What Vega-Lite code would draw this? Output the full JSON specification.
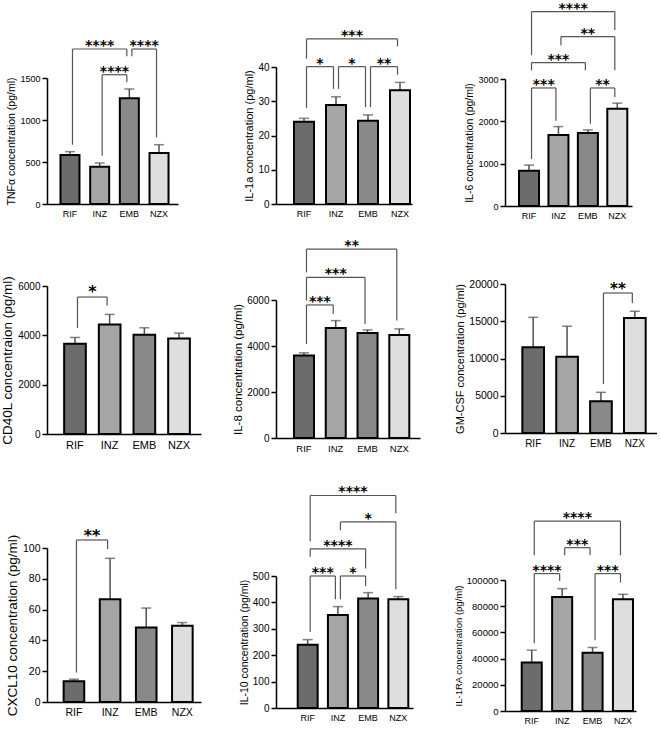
{
  "$schema": "https://vega.github.io/schema/vega-lite/v6.json",
  "padding": {"left": 0, "top": 1, "right": 0, "bottom": 0},
  "datasets": {
    "bars": [
      {"p": "TNF", "g": "RIF", "mean": 583, "upper": 623},
      {"p": "TNF", "g": "INZ", "mean": 444, "upper": 488},
      {"p": "TNF", "g": "EMB", "mean": 1258, "upper": 1369},
      {"p": "TNF", "g": "NZX", "mean": 607, "upper": 706},
      {"p": "IL1a", "g": "RIF", "mean": 24.0, "upper": 25.0},
      {"p": "IL1a", "g": "INZ", "mean": 28.9, "upper": 31.3},
      {"p": "IL1a", "g": "EMB", "mean": 24.3, "upper": 26.0},
      {"p": "IL1a", "g": "NZX", "mean": 33.2, "upper": 35.5},
      {"p": "IL6", "g": "RIF", "mean": 831, "upper": 966},
      {"p": "IL6", "g": "INZ", "mean": 1678, "upper": 1876},
      {"p": "IL6", "g": "EMB", "mean": 1726, "upper": 1797},
      {"p": "IL6", "g": "NZX", "mean": 2296, "upper": 2430},
      {"p": "CD40L", "g": "RIF", "mean": 3656, "upper": 3914},
      {"p": "CD40L", "g": "INZ", "mean": 4442, "upper": 4848},
      {"p": "CD40L", "g": "EMB", "mean": 4022, "upper": 4306},
      {"p": "CD40L", "g": "NZX", "mean": 3873, "upper": 4089},
      {"p": "IL8", "g": "RIF", "mean": 3586, "upper": 3702},
      {"p": "IL8", "g": "INZ", "mean": 4786, "upper": 5104},
      {"p": "IL8", "g": "EMB", "mean": 4569, "upper": 4700},
      {"p": "IL8", "g": "NZX", "mean": 4483, "upper": 4743},
      {"p": "GMCSF", "g": "RIF", "mean": 11498, "upper": 15525},
      {"p": "GMCSF", "g": "INZ", "mean": 10246, "upper": 14317},
      {"p": "GMCSF", "g": "EMB", "mean": 4250, "upper": 5458},
      {"p": "GMCSF", "g": "NZX", "mean": 15436, "upper": 16330},
      {"p": "CXCL10", "g": "RIF", "mean": 13.4, "upper": 14.8},
      {"p": "CXCL10", "g": "INZ", "mean": 66.8, "upper": 93.3},
      {"p": "CXCL10", "g": "EMB", "mean": 48.4, "upper": 61.0},
      {"p": "CXCL10", "g": "NZX", "mean": 49.5, "upper": 51.6},
      {"p": "IL10", "g": "RIF", "mean": 240, "upper": 259},
      {"p": "IL10", "g": "INZ", "mean": 352, "upper": 384},
      {"p": "IL10", "g": "EMB", "mean": 415, "upper": 437},
      {"p": "IL10", "g": "NZX", "mean": 412, "upper": 422},
      {"p": "IL1RA", "g": "RIF", "mean": 37056, "upper": 46446},
      {"p": "IL1RA", "g": "INZ", "mean": 87050, "upper": 93400},
      {"p": "IL1RA", "g": "EMB", "mean": 44400, "upper": 48470},
      {"p": "IL1RA", "g": "NZX", "mean": 85280, "upper": 89080}
    ],
    "br": [
      {"p": "TNF", "g1": "RIF", "g2": "EMB", "y": 1845, "l1": 706, "l2": 1758, "s": "****"},
      {"p": "TNF", "g1": "EMB", "g2": "NZX", "y": 1845, "l1": 1758, "l2": 794, "s": "****"},
      {"p": "TNF", "g1": "INZ", "g2": "EMB", "y": 1539, "l1": 575, "l2": 1449, "s": "****"},
      {"p": "IL1a", "g1": "RIF", "g2": "NZX", "y": 48.2, "l1": 42.4, "l2": 46.0, "s": "***"},
      {"p": "IL1a", "g1": "RIF", "g2": "INZ", "y": 40.1, "l1": 28.0, "l2": 33.6, "s": "*"},
      {"p": "IL1a", "g1": "INZ", "g2": "EMB", "y": 40.1, "l1": 33.6, "l2": 28.3, "s": "*"},
      {"p": "IL1a", "g1": "EMB", "g2": "NZX", "y": 40.1, "l1": 28.3, "l2": 37.7, "s": "**"},
      {"p": "IL6", "g1": "RIF", "g2": "NZX", "y": 4593, "l1": 3563, "l2": 4156, "s": "****"},
      {"p": "IL6", "g1": "INZ", "g2": "NZX", "y": 4000, "l1": 3800, "l2": 3206, "s": "**"},
      {"p": "IL6", "g1": "RIF", "g2": "EMB", "y": 3389, "l1": 3206, "l2": 3206, "s": "***"},
      {"p": "IL6", "g1": "RIF", "g2": "INZ", "y": 2788, "l1": 1109, "l2": 2012, "s": "***"},
      {"p": "IL6", "g1": "EMB", "g2": "NZX", "y": 2788, "l1": 1940, "l2": 2575, "s": "**"},
      {"p": "CD40L", "g1": "RIF", "g2": "INZ", "y": 5552, "l1": 4292, "l2": 5213, "s": "*"},
      {"p": "IL8", "g1": "RIF", "g2": "NZX", "y": 8213, "l1": 7201, "l2": 5104, "s": "**"},
      {"p": "IL8", "g1": "RIF", "g2": "EMB", "y": 6984, "l1": 5972, "l2": 4960, "s": "***"},
      {"p": "IL8", "g1": "RIF", "g2": "INZ", "y": 5784, "l1": 4092, "l2": 5394, "s": "***"},
      {"p": "GMCSF", "g1": "EMB", "g2": "NZX", "y": 18791, "l1": 6577, "l2": 17449, "s": "**"},
      {"p": "CXCL10", "g1": "RIF", "g2": "INZ", "y": 105.2, "l1": 19.1, "l2": 99.3, "s": "**"},
      {"p": "IL10", "g1": "RIF", "g2": "NZX", "y": 805, "l1": 631, "l2": 738, "s": "****"},
      {"p": "IL10", "g1": "INZ", "g2": "NZX", "y": 705, "l1": 673, "l2": 450, "s": "*"},
      {"p": "IL10", "g1": "RIF", "g2": "EMB", "y": 603, "l1": 573, "l2": 528, "s": "****"},
      {"p": "IL10", "g1": "RIF", "g2": "INZ", "y": 500, "l1": 288, "l2": 412, "s": "***"},
      {"p": "IL10", "g1": "INZ", "g2": "EMB", "y": 500, "l1": 412, "l2": 462, "s": "*"},
      {"p": "IL1RA", "g1": "RIF", "g2": "NZX", "y": 144900, "l1": 118800, "l2": 118800, "s": "****"},
      {"p": "IL1RA", "g1": "INZ", "g2": "EMB", "y": 124700, "l1": 118800, "l2": 118800, "s": "***"},
      {"p": "IL1RA", "g1": "RIF", "g2": "INZ", "y": 104900, "l1": 51800, "l2": 99240, "s": "****"},
      {"p": "IL1RA", "g1": "EMB", "g2": "NZX", "y": 104900, "l1": 54000, "l2": 98000, "s": "***"}
    ]
  },
  "config": {
    "view": {"stroke": null},
    "font": "Liberation Sans",
    "numberFormat": "d",
    "axis": {"grid": false, "domainColor": "black", "domainWidth": 1.5, "tickColor": "black", "tickWidth": 1.5, "tickSize": 5, "labelColor": "black", "titleColor": "black", "titleFontWeight": "normal", "labelPadding": 2, "titlePadding": 3, "labelOverlap": false},
    "axisX": {"ticks": false, "labelAngle": 0, "labelPadding": 5}
  },
  "bounds": "flush",
  "spacing": 229,
  "hconcat": [
    {
      "bounds": "flush",
      "spacing": 0,
      "vconcat": [
        {"width": 1, "height": 12, "mark": {"type": "point", "opacity": 0}, "data": {"values": [{}]}},
        {
          "width": 131, "height": 126,
          "layer": [
            {"data": {"name": "bars"}, "transform": [{"filter": "datum.p == 'TNF'"}], "layer": [
              {"mark": {"type": "rule", "color": "#505050", "strokeWidth": 1.5}, "encoding": {"x": {"field": "g", "type": "nominal", "title": null}, "y": {"field": "mean", "type": "quantitative"}, "y2": {"field": "upper"}}},
              {"mark": {"type": "tick", "color": "#505050", "thickness": 1.5, "size": 10}, "encoding": {"x": {"field": "g", "type": "nominal", "title": null}, "y": {"field": "upper", "type": "quantitative"}}},
              {"mark": {"type": "bar", "stroke": "black", "strokeWidth": 2}, "encoding": {
                "x": {"field": "g", "type": "nominal", "title": null, "scale": {"domain": ["RIF", "INZ", "EMB", "NZX"], "paddingInner": 0.36, "paddingOuter": 0.387, "align": 0.587}, "axis": {"labelFontSize": 9}},
                "y": {"field": "mean", "type": "quantitative", "title": "TNFα concentration (pg/ml)", "scale": {"domain": [0, 1500], "nice": false}, "axis": {"values": [0, 500, 1000, 1500], "tickCount": 20, "titleFontSize": 10.5, "labelFontSize": 9}},
                "fill": {"field": "g", "type": "nominal", "scale": {"domain": ["RIF", "INZ", "EMB", "NZX"], "range": ["#6c6c6c", "#a5a5a5", "#898989", "#dedede"]}, "legend": null}}}
            ]},
            {"data": {"name": "br"}, "transform": [{"filter": "datum.p == 'TNF'"}], "layer": [
              {"mark": {"type": "rule", "color": "#555555", "strokeWidth": 1.2, "xOffset": 2.5, "x2Offset": -2.5}, "encoding": {"x": {"field": "g1", "type": "nominal", "title": null, "bandPosition": 0.5}, "x2": {"field": "g2", "bandPosition": 0.5}, "y": {"field": "y", "type": "quantitative"}}},
              {"mark": {"type": "rule", "color": "#555555", "strokeWidth": 1.2, "xOffset": 2.5}, "encoding": {"x": {"field": "g1", "type": "nominal", "title": null}, "y": {"field": "l1", "type": "quantitative"}, "y2": {"field": "y"}}},
              {"mark": {"type": "rule", "color": "#555555", "strokeWidth": 1.2, "xOffset": -2.5}, "encoding": {"x": {"field": "g2", "type": "nominal", "title": null}, "y": {"field": "l2", "type": "quantitative"}, "y2": {"field": "y"}}},
              {"transform": [{"filter": "indexof(['RIF','INZ','EMB','NZX'], datum.g2) - indexof(['RIF','INZ','EMB','NZX'], datum.g1) == 1"}], "mark": {"type": "text", "font": "DejaVu Sans", "fontWeight": "bold", "fontSize": 14, "baseline": "alphabetic", "dy": 1}, "encoding": {"x": {"field": "g1", "type": "nominal", "title": null, "bandPosition": 1.28125}, "y": {"field": "y", "type": "quantitative"}, "text": {"field": "s"}}},
              {"transform": [{"filter": "indexof(['RIF','INZ','EMB','NZX'], datum.g2) - indexof(['RIF','INZ','EMB','NZX'], datum.g1) == 2"}], "mark": {"type": "text", "font": "DejaVu Sans", "fontWeight": "bold", "fontSize": 14, "baseline": "alphabetic", "dy": 1}, "encoding": {"x": {"field": "g1", "type": "nominal", "title": null, "bandPosition": 2.0625}, "y": {"field": "y", "type": "quantitative"}, "text": {"field": "s"}}}
            ]}
          ]
        },
        {"width": 1, "height": 82, "mark": {"type": "point", "opacity": 0}, "data": {"values": [{}]}},
        {
          "width": 154, "height": 148,
          "layer": [
            {"data": {"name": "bars"}, "transform": [{"filter": "datum.p == 'CD40L'"}], "layer": [
              {"mark": {"type": "rule", "color": "#505050", "strokeWidth": 1.5}, "encoding": {"x": {"field": "g", "type": "nominal", "title": null}, "y": {"field": "mean", "type": "quantitative"}, "y2": {"field": "upper"}}},
              {"mark": {"type": "tick", "color": "#505050", "thickness": 1.5, "size": 10}, "encoding": {"x": {"field": "g", "type": "nominal", "title": null}, "y": {"field": "upper", "type": "quantitative"}}},
              {"mark": {"type": "bar", "stroke": "black", "strokeWidth": 2}, "encoding": {
                "x": {"field": "g", "type": "nominal", "title": null, "scale": {"domain": ["RIF", "INZ", "EMB", "NZX"], "paddingInner": 0.375, "paddingOuter": 0.408, "align": 0.606}, "axis": {"labelFontSize": 11}},
                "y": {"field": "mean", "type": "quantitative", "title": "CD40L concentraion (pg/ml)", "scale": {"domain": [0, 6000], "nice": false}, "axis": {"values": [0, 2000, 4000, 6000], "tickCount": 20, "titleFontSize": 13.5, "labelFontSize": 10}},
                "fill": {"field": "g", "type": "nominal", "scale": {"domain": ["RIF", "INZ", "EMB", "NZX"], "range": ["#6c6c6c", "#a5a5a5", "#898989", "#dedede"]}, "legend": null}}}
            ]},
            {"data": {"name": "br"}, "transform": [{"filter": "datum.p == 'CD40L'"}], "layer": [
              {"mark": {"type": "rule", "color": "#555555", "strokeWidth": 1.2, "xOffset": 2.5, "x2Offset": -2.5}, "encoding": {"x": {"field": "g1", "type": "nominal", "title": null, "bandPosition": 0.5}, "x2": {"field": "g2", "bandPosition": 0.5}, "y": {"field": "y", "type": "quantitative"}}},
              {"mark": {"type": "rule", "color": "#555555", "strokeWidth": 1.2, "xOffset": 2.5}, "encoding": {"x": {"field": "g1", "type": "nominal", "title": null}, "y": {"field": "l1", "type": "quantitative"}, "y2": {"field": "y"}}},
              {"mark": {"type": "rule", "color": "#555555", "strokeWidth": 1.2, "xOffset": -2.5}, "encoding": {"x": {"field": "g2", "type": "nominal", "title": null}, "y": {"field": "l2", "type": "quantitative"}, "y2": {"field": "y"}}},
              {"mark": {"type": "text", "font": "DejaVu Sans", "fontWeight": "bold", "fontSize": 16, "baseline": "alphabetic", "dy": 0}, "encoding": {"x": {"field": "g1", "type": "nominal", "title": null, "bandPosition": 1.3}, "y": {"field": "y", "type": "quantitative"}, "text": {"field": "s"}}}
            ]}
          ]
        },
        {"width": 1, "height": 114, "mark": {"type": "point", "opacity": 0}, "data": {"values": [{}]}},
        {
          "width": 154, "height": 154,
          "layer": [
            {"data": {"name": "bars"}, "transform": [{"filter": "datum.p == 'CXCL10'"}], "layer": [
              {"mark": {"type": "rule", "color": "#505050", "strokeWidth": 1.5}, "encoding": {"x": {"field": "g", "type": "nominal", "title": null}, "y": {"field": "mean", "type": "quantitative"}, "y2": {"field": "upper"}}},
              {"mark": {"type": "tick", "color": "#505050", "thickness": 1.5, "size": 10}, "encoding": {"x": {"field": "g", "type": "nominal", "title": null}, "y": {"field": "upper", "type": "quantitative"}}},
              {"mark": {"type": "bar", "stroke": "black", "strokeWidth": 2}, "encoding": {
                "x": {"field": "g", "type": "nominal", "title": null, "scale": {"domain": ["RIF", "INZ", "EMB", "NZX"], "paddingInner": 0.43, "paddingOuter": 0.346, "align": 0.666}, "axis": {"labelFontSize": 10.5}},
                "y": {"field": "mean", "type": "quantitative", "title": "CXCL10 concentration (pg/ml)", "scale": {"domain": [0, 100], "nice": false}, "axis": {"values": [0, 20, 40, 60, 80, 100], "tickCount": 20, "titleFontSize": 13.5, "labelFontSize": 10.5}},
                "fill": {"field": "g", "type": "nominal", "scale": {"domain": ["RIF", "INZ", "EMB", "NZX"], "range": ["#6c6c6c", "#a5a5a5", "#898989", "#dedede"]}, "legend": null}}}
            ]},
            {"data": {"name": "br"}, "transform": [{"filter": "datum.p == 'CXCL10'"}], "layer": [
              {"mark": {"type": "rule", "color": "#555555", "strokeWidth": 1.2, "xOffset": 2.5, "x2Offset": -2.5}, "encoding": {"x": {"field": "g1", "type": "nominal", "title": null, "bandPosition": 0.5}, "x2": {"field": "g2", "bandPosition": 0.5}, "y": {"field": "y", "type": "quantitative"}}},
              {"mark": {"type": "rule", "color": "#555555", "strokeWidth": 1.2, "xOffset": 2.5}, "encoding": {"x": {"field": "g1", "type": "nominal", "title": null}, "y": {"field": "l1", "type": "quantitative"}, "y2": {"field": "y"}}},
              {"mark": {"type": "rule", "color": "#555555", "strokeWidth": 1.2, "xOffset": -2.5}, "encoding": {"x": {"field": "g2", "type": "nominal", "title": null}, "y": {"field": "l2", "type": "quantitative"}, "y2": {"field": "y"}}},
              {"mark": {"type": "text", "font": "DejaVu Sans", "fontWeight": "bold", "fontSize": 16, "baseline": "alphabetic", "dy": 1}, "encoding": {"x": {"field": "g1", "type": "nominal", "title": null, "bandPosition": 1.3772}, "y": {"field": "y", "type": "quantitative"}, "text": {"field": "s"}}}
            ]}
          ]
        }
      ]
    },
    {
      "bounds": "flush",
      "spacing": 0,
      "vconcat": [
        {"width": 1, "height": 1, "mark": {"type": "point", "opacity": 0}, "data": {"values": [{}]}},
        {
          "width": 136, "height": 137,
          "layer": [
            {"data": {"name": "bars"}, "transform": [{"filter": "datum.p == 'IL1a'"}], "layer": [
              {"mark": {"type": "rule", "color": "#505050", "strokeWidth": 1.5}, "encoding": {"x": {"field": "g", "type": "nominal", "title": null}, "y": {"field": "mean", "type": "quantitative"}, "y2": {"field": "upper"}}},
              {"mark": {"type": "tick", "color": "#505050", "thickness": 1.5, "size": 10}, "encoding": {"x": {"field": "g", "type": "nominal", "title": null}, "y": {"field": "upper", "type": "quantitative"}}},
              {"mark": {"type": "bar", "stroke": "black", "strokeWidth": 2}, "encoding": {
                "x": {"field": "g", "type": "nominal", "title": null, "scale": {"domain": ["RIF", "INZ", "EMB", "NZX"], "paddingInner": 0.375, "paddingOuter": 0.3125, "align": 0.9}, "axis": {"labelFontSize": 9}},
                "y": {"field": "mean", "type": "quantitative", "title": "IL-1a concentration (pg/ml)", "scale": {"domain": [0, 40], "nice": false}, "axis": {"values": [0, 10, 20, 30, 40], "tickCount": 20, "titleFontSize": 11, "labelFontSize": 10}},
                "fill": {"field": "g", "type": "nominal", "scale": {"domain": ["RIF", "INZ", "EMB", "NZX"], "range": ["#6c6c6c", "#a5a5a5", "#898989", "#dedede"]}, "legend": null}}}
            ]},
            {"data": {"name": "br"}, "transform": [{"filter": "datum.p == 'IL1a'"}], "layer": [
              {"mark": {"type": "rule", "color": "#555555", "strokeWidth": 1.2, "xOffset": 2.5, "x2Offset": -2.5}, "encoding": {"x": {"field": "g1", "type": "nominal", "title": null, "bandPosition": 0.5}, "x2": {"field": "g2", "bandPosition": 0.5}, "y": {"field": "y", "type": "quantitative"}}},
              {"mark": {"type": "rule", "color": "#555555", "strokeWidth": 1.2, "xOffset": 2.5}, "encoding": {"x": {"field": "g1", "type": "nominal", "title": null}, "y": {"field": "l1", "type": "quantitative"}, "y2": {"field": "y"}}},
              {"mark": {"type": "rule", "color": "#555555", "strokeWidth": 1.2, "xOffset": -2.5}, "encoding": {"x": {"field": "g2", "type": "nominal", "title": null}, "y": {"field": "l2", "type": "quantitative"}, "y2": {"field": "y"}}},
              {"transform": [{"filter": "indexof(['RIF','INZ','EMB','NZX'], datum.g2) - indexof(['RIF','INZ','EMB','NZX'], datum.g1) == 1"}], "mark": {"type": "text", "font": "DejaVu Sans", "fontWeight": "bold", "fontSize": 14, "baseline": "alphabetic", "dy": 1}, "encoding": {"x": {"field": "g1", "type": "nominal", "title": null, "bandPosition": 1.3}, "y": {"field": "y", "type": "quantitative"}, "text": {"field": "s"}}},
              {"transform": [{"filter": "indexof(['RIF','INZ','EMB','NZX'], datum.g2) - indexof(['RIF','INZ','EMB','NZX'], datum.g1) == 3"}], "mark": {"type": "text", "font": "DejaVu Sans", "fontWeight": "bold", "fontSize": 14, "baseline": "alphabetic", "dy": 1}, "encoding": {"x": {"field": "g1", "type": "nominal", "title": null, "bandPosition": 2.9}, "y": {"field": "y", "type": "quantitative"}, "text": {"field": "s"}}}
            ]}
          ]
        },
        {"width": 1, "height": 96, "mark": {"type": "point", "opacity": 0}, "data": {"values": [{}]}},
        {
          "width": 144, "height": 138,
          "layer": [
            {"data": {"name": "bars"}, "transform": [{"filter": "datum.p == 'IL8'"}], "layer": [
              {"mark": {"type": "rule", "color": "#505050", "strokeWidth": 1.5}, "encoding": {"x": {"field": "g", "type": "nominal", "title": null}, "y": {"field": "mean", "type": "quantitative"}, "y2": {"field": "upper"}}},
              {"mark": {"type": "tick", "color": "#505050", "thickness": 1.5, "size": 10}, "encoding": {"x": {"field": "g", "type": "nominal", "title": null}, "y": {"field": "upper", "type": "quantitative"}}},
              {"mark": {"type": "bar", "stroke": "black", "strokeWidth": 2}, "encoding": {
                "x": {"field": "g", "type": "nominal", "title": null, "scale": {"domain": ["RIF", "INZ", "EMB", "NZX"], "paddingInner": 0.37, "paddingOuter": 0.451, "align": 0.627}, "axis": {"labelFontSize": 9.5}},
                "y": {"field": "mean", "type": "quantitative", "title": "IL-8 concentration (pg/ml)", "scale": {"domain": [0, 6000], "nice": false}, "axis": {"values": [0, 2000, 4000, 6000], "tickCount": 20, "titleFontSize": 11.5, "labelFontSize": 10}},
                "fill": {"field": "g", "type": "nominal", "scale": {"domain": ["RIF", "INZ", "EMB", "NZX"], "range": ["#6c6c6c", "#a5a5a5", "#898989", "#dedede"]}, "legend": null}}}
            ]},
            {"data": {"name": "br"}, "transform": [{"filter": "datum.p == 'IL8'"}], "layer": [
              {"mark": {"type": "rule", "color": "#555555", "strokeWidth": 1.2, "xOffset": 2.5, "x2Offset": -2.5}, "encoding": {"x": {"field": "g1", "type": "nominal", "title": null, "bandPosition": 0.5}, "x2": {"field": "g2", "bandPosition": 0.5}, "y": {"field": "y", "type": "quantitative"}}},
              {"mark": {"type": "rule", "color": "#555555", "strokeWidth": 1.2, "xOffset": 2.5}, "encoding": {"x": {"field": "g1", "type": "nominal", "title": null}, "y": {"field": "l1", "type": "quantitative"}, "y2": {"field": "y"}}},
              {"mark": {"type": "rule", "color": "#555555", "strokeWidth": 1.2, "xOffset": -2.5}, "encoding": {"x": {"field": "g2", "type": "nominal", "title": null}, "y": {"field": "l2", "type": "quantitative"}, "y2": {"field": "y"}}},
              {"transform": [{"filter": "indexof(['RIF','INZ','EMB','NZX'], datum.g2) - indexof(['RIF','INZ','EMB','NZX'], datum.g1) == 1"}], "mark": {"type": "text", "font": "DejaVu Sans", "fontWeight": "bold", "fontSize": 14, "baseline": "alphabetic", "dy": 1}, "encoding": {"x": {"field": "g1", "type": "nominal", "title": null, "bandPosition": 1.2937}, "y": {"field": "y", "type": "quantitative"}, "text": {"field": "s"}}},
              {"transform": [{"filter": "indexof(['RIF','INZ','EMB','NZX'], datum.g2) - indexof(['RIF','INZ','EMB','NZX'], datum.g1) == 2"}], "mark": {"type": "text", "font": "DejaVu Sans", "fontWeight": "bold", "fontSize": 14, "baseline": "alphabetic", "dy": 1}, "encoding": {"x": {"field": "g1", "type": "nominal", "title": null, "bandPosition": 2.0873}, "y": {"field": "y", "type": "quantitative"}, "text": {"field": "s"}}},
              {"transform": [{"filter": "indexof(['RIF','INZ','EMB','NZX'], datum.g2) - indexof(['RIF','INZ','EMB','NZX'], datum.g1) == 3"}], "mark": {"type": "text", "font": "DejaVu Sans", "fontWeight": "bold", "fontSize": 14, "baseline": "alphabetic", "dy": 1}, "encoding": {"x": {"field": "g1", "type": "nominal", "title": null, "bandPosition": 2.881}, "y": {"field": "y", "type": "quantitative"}, "text": {"field": "s"}}}
            ]}
          ]
        },
        {"width": 1, "height": 138, "mark": {"type": "point", "opacity": 0}, "data": {"values": [{}]}},
        {
          "width": 137, "height": 132,
          "layer": [
            {"data": {"name": "bars"}, "transform": [{"filter": "datum.p == 'IL10'"}], "layer": [
              {"mark": {"type": "rule", "color": "#505050", "strokeWidth": 1.5}, "encoding": {"x": {"field": "g", "type": "nominal", "title": null}, "y": {"field": "mean", "type": "quantitative"}, "y2": {"field": "upper"}}},
              {"mark": {"type": "tick", "color": "#505050", "thickness": 1.5, "size": 10}, "encoding": {"x": {"field": "g", "type": "nominal", "title": null}, "y": {"field": "upper", "type": "quantitative"}}},
              {"mark": {"type": "bar", "stroke": "black", "strokeWidth": 2}, "encoding": {
                "x": {"field": "g", "type": "nominal", "title": null, "scale": {"domain": ["RIF", "INZ", "EMB", "NZX"], "paddingInner": 0.34, "paddingOuter": 0.437, "align": 0.822}, "axis": {"labelFontSize": 9}},
                "y": {"field": "mean", "type": "quantitative", "title": "IL-10 concentration (pg/ml)", "scale": {"domain": [0, 500], "nice": false}, "axis": {"values": [0, 100, 200, 300, 400, 500], "tickCount": 20, "titleFontSize": 10.5, "labelFontSize": 10}},
                "fill": {"field": "g", "type": "nominal", "scale": {"domain": ["RIF", "INZ", "EMB", "NZX"], "range": ["#6c6c6c", "#a5a5a5", "#898989", "#dedede"]}, "legend": null}}}
            ]},
            {"data": {"name": "br"}, "transform": [{"filter": "datum.p == 'IL10'"}], "layer": [
              {"mark": {"type": "rule", "color": "#555555", "strokeWidth": 1.2, "xOffset": 2.5, "x2Offset": -2.5}, "encoding": {"x": {"field": "g1", "type": "nominal", "title": null, "bandPosition": 0.5}, "x2": {"field": "g2", "bandPosition": 0.5}, "y": {"field": "y", "type": "quantitative"}}},
              {"mark": {"type": "rule", "color": "#555555", "strokeWidth": 1.2, "xOffset": 2.5}, "encoding": {"x": {"field": "g1", "type": "nominal", "title": null}, "y": {"field": "l1", "type": "quantitative"}, "y2": {"field": "y"}}},
              {"mark": {"type": "rule", "color": "#555555", "strokeWidth": 1.2, "xOffset": -2.5}, "encoding": {"x": {"field": "g2", "type": "nominal", "title": null}, "y": {"field": "l2", "type": "quantitative"}, "y2": {"field": "y"}}},
              {"transform": [{"filter": "indexof(['RIF','INZ','EMB','NZX'], datum.g2) - indexof(['RIF','INZ','EMB','NZX'], datum.g1) == 1"}], "mark": {"type": "text", "font": "DejaVu Sans", "fontWeight": "bold", "fontSize": 14, "baseline": "alphabetic", "dy": 1}, "encoding": {"x": {"field": "g1", "type": "nominal", "title": null, "bandPosition": 1.2576}, "y": {"field": "y", "type": "quantitative"}, "text": {"field": "s"}}},
              {"transform": [{"filter": "indexof(['RIF','INZ','EMB','NZX'], datum.g2) - indexof(['RIF','INZ','EMB','NZX'], datum.g1) == 2"}], "mark": {"type": "text", "font": "DejaVu Sans", "fontWeight": "bold", "fontSize": 14, "baseline": "alphabetic", "dy": 1}, "encoding": {"x": {"field": "g1", "type": "nominal", "title": null, "bandPosition": 2.0152}, "y": {"field": "y", "type": "quantitative"}, "text": {"field": "s"}}},
              {"transform": [{"filter": "indexof(['RIF','INZ','EMB','NZX'], datum.g2) - indexof(['RIF','INZ','EMB','NZX'], datum.g1) == 3"}], "mark": {"type": "text", "font": "DejaVu Sans", "fontWeight": "bold", "fontSize": 14, "baseline": "alphabetic", "dy": 1}, "encoding": {"x": {"field": "g1", "type": "nominal", "title": null, "bandPosition": 2.7727}, "y": {"field": "y", "type": "quantitative"}, "text": {"field": "s"}}}
            ]}
          ]
        }
      ]
    },
    {
      "bounds": "flush",
      "spacing": 0,
      "vconcat": [
        {"width": 1, "height": 13, "mark": {"type": "point", "opacity": 0}, "data": {"values": [{}]}},
        {
          "width": 127, "height": 127,
          "layer": [
            {"data": {"name": "bars"}, "transform": [{"filter": "datum.p == 'IL6'"}], "layer": [
              {"mark": {"type": "rule", "color": "#505050", "strokeWidth": 1.5}, "encoding": {"x": {"field": "g", "type": "nominal", "title": null}, "y": {"field": "mean", "type": "quantitative"}, "y2": {"field": "upper"}}},
              {"mark": {"type": "tick", "color": "#505050", "thickness": 1.5, "size": 10}, "encoding": {"x": {"field": "g", "type": "nominal", "title": null}, "y": {"field": "upper", "type": "quantitative"}}},
              {"mark": {"type": "bar", "stroke": "black", "strokeWidth": 2}, "encoding": {
                "x": {"field": "g", "type": "nominal", "title": null, "scale": {"domain": ["RIF", "INZ", "EMB", "NZX"], "paddingInner": 0.32, "paddingOuter": 0.318, "align": 0.749}, "axis": {"labelFontSize": 9}},
                "y": {"field": "mean", "type": "quantitative", "title": "IL-6 concentration (pg/ml)", "scale": {"domain": [0, 3000], "nice": false}, "axis": {"values": [0, 1000, 2000, 3000], "tickCount": 20, "titleFontSize": 10.5, "labelFontSize": 9}},
                "fill": {"field": "g", "type": "nominal", "scale": {"domain": ["RIF", "INZ", "EMB", "NZX"], "range": ["#6c6c6c", "#a5a5a5", "#898989", "#dedede"]}, "legend": null}}}
            ]},
            {"data": {"name": "br"}, "transform": [{"filter": "datum.p == 'IL6'"}], "layer": [
              {"mark": {"type": "rule", "color": "#555555", "strokeWidth": 1.2, "xOffset": 2.5, "x2Offset": -2.5}, "encoding": {"x": {"field": "g1", "type": "nominal", "title": null, "bandPosition": 0.5}, "x2": {"field": "g2", "bandPosition": 0.5}, "y": {"field": "y", "type": "quantitative"}}},
              {"mark": {"type": "rule", "color": "#555555", "strokeWidth": 1.2, "xOffset": 2.5}, "encoding": {"x": {"field": "g1", "type": "nominal", "title": null}, "y": {"field": "l1", "type": "quantitative"}, "y2": {"field": "y"}}},
              {"mark": {"type": "rule", "color": "#555555", "strokeWidth": 1.2, "xOffset": -2.5}, "encoding": {"x": {"field": "g2", "type": "nominal", "title": null}, "y": {"field": "l2", "type": "quantitative"}, "y2": {"field": "y"}}},
              {"transform": [{"filter": "indexof(['RIF','INZ','EMB','NZX'], datum.g2) - indexof(['RIF','INZ','EMB','NZX'], datum.g1) == 1"}], "mark": {"type": "text", "font": "DejaVu Sans", "fontWeight": "bold", "fontSize": 14, "baseline": "alphabetic", "dy": 1}, "encoding": {"x": {"field": "g1", "type": "nominal", "title": null, "bandPosition": 1.2353}, "y": {"field": "y", "type": "quantitative"}, "text": {"field": "s"}}},
              {"transform": [{"filter": "indexof(['RIF','INZ','EMB','NZX'], datum.g2) - indexof(['RIF','INZ','EMB','NZX'], datum.g1) == 2"}], "mark": {"type": "text", "font": "DejaVu Sans", "fontWeight": "bold", "fontSize": 14, "baseline": "alphabetic", "dy": 1}, "encoding": {"x": {"field": "g1", "type": "nominal", "title": null, "bandPosition": 1.9706}, "y": {"field": "y", "type": "quantitative"}, "text": {"field": "s"}}},
              {"transform": [{"filter": "indexof(['RIF','INZ','EMB','NZX'], datum.g2) - indexof(['RIF','INZ','EMB','NZX'], datum.g1) == 3"}], "mark": {"type": "text", "font": "DejaVu Sans", "fontWeight": "bold", "fontSize": 14, "baseline": "alphabetic", "dy": 1}, "encoding": {"x": {"field": "g1", "type": "nominal", "title": null, "bandPosition": 2.7059}, "y": {"field": "y", "type": "quantitative"}, "text": {"field": "s"}}}
            ]}
          ]
        },
        {"width": 1, "height": 78, "mark": {"type": "point", "opacity": 0}, "data": {"values": [{}]}},
        {
          "width": 152, "height": 149,
          "layer": [
            {"data": {"name": "bars"}, "transform": [{"filter": "datum.p == 'GMCSF'"}], "layer": [
              {"mark": {"type": "rule", "color": "#505050", "strokeWidth": 1.5}, "encoding": {"x": {"field": "g", "type": "nominal", "title": null}, "y": {"field": "mean", "type": "quantitative"}, "y2": {"field": "upper"}}},
              {"mark": {"type": "tick", "color": "#505050", "thickness": 1.5, "size": 10}, "encoding": {"x": {"field": "g", "type": "nominal", "title": null}, "y": {"field": "upper", "type": "quantitative"}}},
              {"mark": {"type": "bar", "stroke": "black", "strokeWidth": 2}, "encoding": {
                "x": {"field": "g", "type": "nominal", "title": null, "scale": {"domain": ["RIF", "INZ", "EMB", "NZX"], "paddingInner": 0.36, "paddingOuter": 0.423, "align": 0.605}, "axis": {"labelFontSize": 10}},
                "y": {"field": "mean", "type": "quantitative", "title": "GM-CSF concentration (pg/ml)", "scale": {"domain": [0, 20000], "nice": false}, "axis": {"values": [0, 5000, 10000, 15000, 20000], "tickCount": 20, "titleFontSize": 11, "labelFontSize": 10.5}},
                "fill": {"field": "g", "type": "nominal", "scale": {"domain": ["RIF", "INZ", "EMB", "NZX"], "range": ["#6c6c6c", "#a5a5a5", "#898989", "#dedede"]}, "legend": null}}}
            ]},
            {"data": {"name": "br"}, "transform": [{"filter": "datum.p == 'GMCSF'"}], "layer": [
              {"mark": {"type": "rule", "color": "#555555", "strokeWidth": 1.2, "xOffset": 2.5, "x2Offset": -2.5}, "encoding": {"x": {"field": "g1", "type": "nominal", "title": null, "bandPosition": 0.5}, "x2": {"field": "g2", "bandPosition": 0.5}, "y": {"field": "y", "type": "quantitative"}}},
              {"mark": {"type": "rule", "color": "#555555", "strokeWidth": 1.2, "xOffset": 2.5}, "encoding": {"x": {"field": "g1", "type": "nominal", "title": null}, "y": {"field": "l1", "type": "quantitative"}, "y2": {"field": "y"}}},
              {"mark": {"type": "rule", "color": "#555555", "strokeWidth": 1.2, "xOffset": -2.5}, "encoding": {"x": {"field": "g2", "type": "nominal", "title": null}, "y": {"field": "l2", "type": "quantitative"}, "y2": {"field": "y"}}},
              {"mark": {"type": "text", "font": "DejaVu Sans", "fontWeight": "bold", "fontSize": 15, "baseline": "alphabetic", "dy": 1}, "encoding": {"x": {"field": "g1", "type": "nominal", "title": null, "bandPosition": 1.28125}, "y": {"field": "y", "type": "quantitative"}, "text": {"field": "s"}}}
            ]}
          ]
        },
        {"width": 1, "height": 147, "mark": {"type": "point", "opacity": 0}, "data": {"values": [{}]}},
        {
          "width": 131, "height": 131,
          "layer": [
            {"data": {"name": "bars"}, "transform": [{"filter": "datum.p == 'IL1RA'"}], "layer": [
              {"mark": {"type": "rule", "color": "#505050", "strokeWidth": 1.5}, "encoding": {"x": {"field": "g", "type": "nominal", "title": null}, "y": {"field": "mean", "type": "quantitative"}, "y2": {"field": "upper"}}},
              {"mark": {"type": "tick", "color": "#505050", "thickness": 1.5, "size": 10}, "encoding": {"x": {"field": "g", "type": "nominal", "title": null}, "y": {"field": "upper", "type": "quantitative"}}},
              {"mark": {"type": "bar", "stroke": "black", "strokeWidth": 2}, "encoding": {
                "x": {"field": "g", "type": "nominal", "title": null, "scale": {"domain": ["RIF", "INZ", "EMB", "NZX"], "paddingInner": 0.34, "paddingOuter": 0.324, "align": 0.848}, "axis": {"labelFontSize": 9}},
                "y": {"field": "mean", "type": "quantitative", "title": "IL-1RA concentration (pg/ml)", "scale": {"domain": [0, 100000], "nice": false}, "axis": {"values": [0, 20000, 40000, 60000, 80000, 100000], "tickCount": 20, "titleFontSize": 9.5, "labelFontSize": 9.5}},
                "fill": {"field": "g", "type": "nominal", "scale": {"domain": ["RIF", "INZ", "EMB", "NZX"], "range": ["#6c6c6c", "#a5a5a5", "#898989", "#dedede"]}, "legend": null}}}
            ]},
            {"data": {"name": "br"}, "transform": [{"filter": "datum.p == 'IL1RA'"}], "layer": [
              {"mark": {"type": "rule", "color": "#555555", "strokeWidth": 1.2, "xOffset": 2.5, "x2Offset": -2.5}, "encoding": {"x": {"field": "g1", "type": "nominal", "title": null, "bandPosition": 0.5}, "x2": {"field": "g2", "bandPosition": 0.5}, "y": {"field": "y", "type": "quantitative"}}},
              {"mark": {"type": "rule", "color": "#555555", "strokeWidth": 1.2, "xOffset": 2.5}, "encoding": {"x": {"field": "g1", "type": "nominal", "title": null}, "y": {"field": "l1", "type": "quantitative"}, "y2": {"field": "y"}}},
              {"mark": {"type": "rule", "color": "#555555", "strokeWidth": 1.2, "xOffset": -2.5}, "encoding": {"x": {"field": "g2", "type": "nominal", "title": null}, "y": {"field": "l2", "type": "quantitative"}, "y2": {"field": "y"}}},
              {"transform": [{"filter": "indexof(['RIF','INZ','EMB','NZX'], datum.g2) - indexof(['RIF','INZ','EMB','NZX'], datum.g1) == 1"}], "mark": {"type": "text", "font": "DejaVu Sans", "fontWeight": "bold", "fontSize": 14, "baseline": "alphabetic", "dy": 1}, "encoding": {"x": {"field": "g1", "type": "nominal", "title": null, "bandPosition": 1.2576}, "y": {"field": "y", "type": "quantitative"}, "text": {"field": "s"}}},
              {"transform": [{"filter": "indexof(['RIF','INZ','EMB','NZX'], datum.g2) - indexof(['RIF','INZ','EMB','NZX'], datum.g1) == 3"}], "mark": {"type": "text", "font": "DejaVu Sans", "fontWeight": "bold", "fontSize": 14, "baseline": "alphabetic", "dy": 1}, "encoding": {"x": {"field": "g1", "type": "nominal", "title": null, "bandPosition": 2.7727}, "y": {"field": "y", "type": "quantitative"}, "text": {"field": "s"}}}
            ]}
          ]
        }
      ]
    }
  ]
}
